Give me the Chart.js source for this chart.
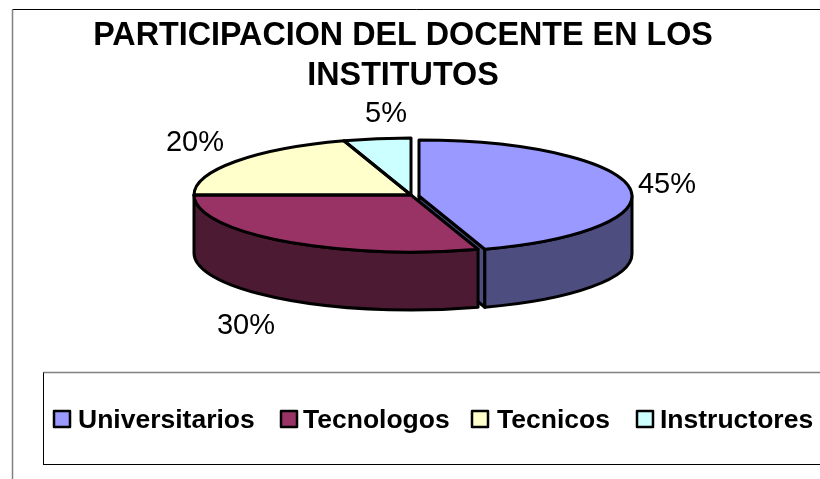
<!DOCTYPE html>
<html>
<head>
<meta charset="utf-8">
<style>
  html, body { margin: 0; padding: 0; background: #fff; }
  canvas { display: block; }
</style>
</head>
<body>
<canvas id="pieChart" width="820" height="479"></canvas>
<script src="https://cdn.jsdelivr.net/npm/chart.js@4"></script>
<script>
const categories = ['Universitarios', 'Tecnologos', 'Tecnicos', 'Instructores'];
const shares = [45, 30, 20, 5];
const titleLines = ['PARTICIPACION DEL DOCENTE EN LOS', 'INSTITUTOS'];
const topColors = ['#9999FF', '#993366', '#FFFFCC', '#CCFFFF'];
const wallColors = ['#4D4D80', '#4D1A33', '#80805F', '#608080'];

// layout of the fake 3D pie and of the labels around it
const fontFamily = '"Liberation Sans", Arial, sans-serif';
const pieX = 411, pieY = 195, pieRadius = 217, tilt = 0.2627, depth = 58;
const explodeX = [8, 0, 0, 0], explodeY = [1, 0, 0, 0], shrink = [4, 0, 0, 0];
const percentX = [667, 246, 195, 386], percentY = [185, 326, 143, 114];
const legendBoxX = [53, 280, 471, 636], legendTextX = [78, 303, 497, 660];

const pie3d = {
    id: 'pie3d',
    afterDatasetsUpdate(chart) {
        chart.getDatasetMeta(0).data.forEach((arc, i) => {
            arc.x = pieX + explodeX[i];
            arc.y = pieY + explodeY[i] / tilt;
            arc.outerRadius = pieRadius - shrink[i];
        });
    },
    beforeDraw(chart) {
        const ctx = chart.ctx;
        ctx.save();
        ctx.fillStyle = '#fff';
        ctx.fillRect(0, 0, chart.width, chart.height);
        ctx.strokeStyle = '#000';
        ctx.lineWidth = 1;
        ctx.beginPath();
        ctx.moveTo(820, 9.5);
        ctx.lineTo(12.5, 9.5);
        ctx.stroke();
        ctx.strokeStyle = '#808080';
        ctx.lineWidth = 1.5;
        ctx.beginPath();
        ctx.moveTo(12.5, 9.5);
        ctx.lineTo(12.5, 479);
        ctx.stroke();
        // legend frame
        ctx.lineWidth = 1;
        ctx.strokeStyle = '#000';
        ctx.strokeRect(43.5, 372.5, 800, 92);
        ctx.strokeStyle = '#808080';
        ctx.lineWidth = 1.5;
        ctx.beginPath();
        ctx.moveTo(43.5, 372.5);
        ctx.lineTo(820, 372.5);
        ctx.stroke();
        ctx.restore();
    },
    beforeDatasetsDraw(chart) {
        const ctx = chart.ctx;
        const arcs = chart.getDatasetMeta(0).data;
        ctx.save();
        ctx.lineWidth = 3;
        ctx.lineJoin = 'round';
        ctx.strokeStyle = '#000';
        arcs.forEach((arc, i) => {
            const cx = arc.x, cy = pieY + tilt * (arc.y - pieY), r = arc.outerRadius;
            // cut face of an exploded slice, the next slice covers most of it
            if (explodeX[i] > 0) {
                const ex = cx + r * Math.cos(arc.endAngle);
                const ey = cy + tilt * r * Math.sin(arc.endAngle);
                ctx.beginPath();
                ctx.moveTo(cx, cy);
                ctx.lineTo(ex, ey);
                ctx.lineTo(ex, ey + depth);
                ctx.lineTo(cx, cy + depth);
                ctx.closePath();
                ctx.fillStyle = wallColors[i];
                ctx.fill();
                ctx.stroke();
            }
            // outer wall, only the front half can be seen
            const from = Math.max(arc.startAngle, 0);
            const to = Math.min(arc.endAngle, Math.PI);
            if (to > from) {
                ctx.beginPath();
                ctx.ellipse(cx, cy, r, tilt * r, 0, from, to);
                ctx.ellipse(cx, cy + depth, r, tilt * r, 0, to, from, true);
                ctx.closePath();
                ctx.fillStyle = wallColors[i];
                ctx.fill();
                ctx.stroke();
            }
        });
        ctx.restore();
        // squash the flat pie that Chart.js draws next
        ctx.save();
        ctx.translate(0, pieY);
        ctx.scale(1, tilt);
        ctx.translate(0, -pieY);
    },
    afterDatasetsDraw(chart) {
        const ctx = chart.ctx;
        ctx.restore();
        const arcs = chart.getDatasetMeta(0).data;
        ctx.save();
        ctx.lineWidth = 3;
        ctx.lineJoin = 'round';
        ctx.strokeStyle = '#000';
        arcs.forEach(arc => {
            const cx = arc.x, cy = pieY + tilt * (arc.y - pieY), r = arc.outerRadius;
            ctx.beginPath();
            ctx.moveTo(cx, cy);
            ctx.ellipse(cx, cy, r, tilt * r, 0, arc.startAngle, arc.endAngle);
            ctx.closePath();
            ctx.stroke();
        });
        // percent labels
        ctx.fillStyle = '#000';
        ctx.font = '29px ' + fontFamily;
        ctx.textAlign = 'center';
        ctx.textBaseline = 'middle';
        shares.forEach((v, i) => ctx.fillText(v + '%', percentX[i], percentY[i]));
        // legend
        ctx.textAlign = 'left';
        ctx.textBaseline = 'alphabetic';
        ctx.font = 'bold 26.5px ' + fontFamily;
        categories.forEach((name, i) => {
            ctx.fillStyle = topColors[i];
            ctx.fillRect(legendBoxX[i] + 1, 411, 16, 16);
            ctx.lineWidth = 2.5;
            ctx.strokeRect(legendBoxX[i] + 1, 411, 16, 16);
            ctx.fillStyle = '#000';
            ctx.fillText(name, legendTextX[i], 428);
        });
        ctx.restore();
    }
};

new Chart(document.getElementById('pieChart').getContext('2d'), {
    type: 'pie',
    data: {
        labels: categories,
        datasets: [{
            data: shares,
            backgroundColor: topColors,
            borderWidth: 0,
            clip: false
        }]
    },
    options: {
        responsive: false,
        animation: false,
        radius: pieRadius,
        layout: { padding: { right: 14 } },
        plugins: {
            legend: { display: false },
            tooltip: { enabled: false },
            title: {
                display: true,
                text: titleLines,
                color: '#000',
                padding: { top: 16, bottom: 0 },
                font: { family: fontFamily, size: 32.3, weight: 'bold', lineHeight: 1.24 }
            }
        }
    },
    plugins: [pie3d]
});
</script>
</body>
</html>
